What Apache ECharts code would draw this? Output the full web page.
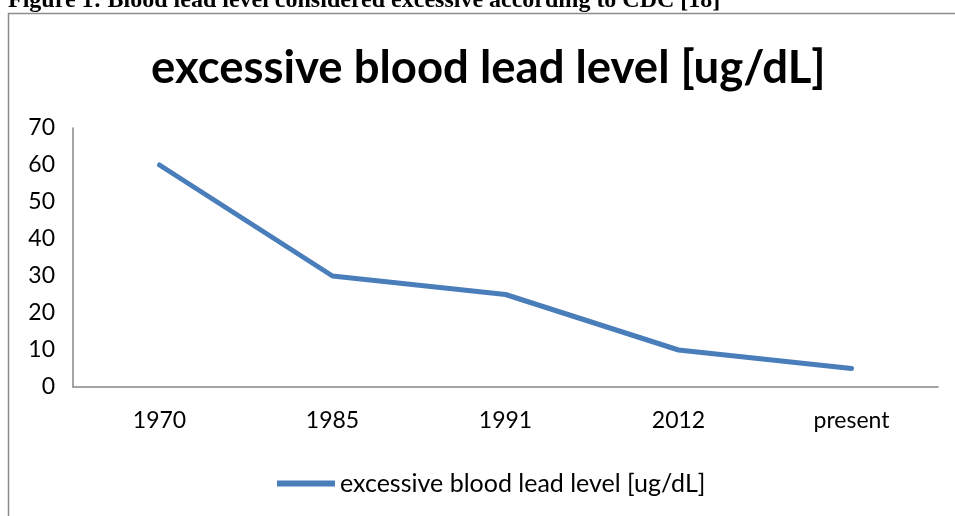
<!DOCTYPE html>
<html><head><meta charset="utf-8">
<script src="https://cdn.jsdelivr.net/npm/echarts@6/dist/echarts.min.js"></script>
<style>html,body{margin:0;padding:0;background:#fff;}#c{width:955px;height:516px;}</style>
</head><body><div id="c"></div>
<script>
const categories = ['1970', '1985', '1991', '2012', 'present'];
const values = [60, 30, 25, 10, 5];
const yTicks = [0, 10, 20, 30, 40, 50, 60, 70];
const seriesName = 'excessive blood lead level [ug/dL]';
const caption = 'Figure 1: Blood lead level considered excessive according to CDC [18]';

const chart = echarts.init(document.getElementById('c'), null, {renderer: 'canvas'});
const font = 'Lato';
chart.setOption({
  animation: false,
  title: {
    text: seriesName, left: 146, top: 40,
    textStyle: {fontFamily: font, fontWeight: 'bold', fontSize: 45.5, color: '#000'}
  },
  graphic: [
    {type: 'rect', shape: {x: 8.5, y: 13.5, width: 1000, height: 600}, style: {fill: 'none', stroke: '#8c8c8c', lineWidth: 1.5}, silent: true},
    {type: 'text', left: 8, top: -11, style: {text: caption, font: 'bold 24px "Liberation Serif"', fill: '#000'}}
  ],
  legend: {
    bottom: 15, left: 272, itemWidth: 58, itemHeight: 6, itemGap: 7,
    textStyle: {fontFamily: font, fontSize: 25, color: '#000'},
    data: [{name: seriesName, icon: 'path://M0,0 L58,0 L58,6 L0,6 Z'}]
  },
  grid: {left: 73, right: 17, top: 128, bottom: 129},
  xAxis: {
    type: 'category', data: categories, boundaryGap: true,
    axisLine: {lineStyle: {color: '#868686', width: 1.5}},
    axisTick: {show: false},
    axisLabel: {fontFamily: font, fontSize: 23, color: '#000', margin: 22}
  },
  yAxis: {
    type: 'value', min: 0, max: 70, interval: 10,
    axisLine: {show: true, lineStyle: {color: '#868686', width: 1.5}},
    axisTick: {show: false},
    splitLine: {show: false},
    axisLabel: {fontFamily: font, fontSize: 23, color: '#000', margin: 18,
      formatter: v => yTicks.includes(v) ? String(v) : ''}
  },
  series: [{
    name: seriesName, type: 'line', data: values,
    symbol: 'none',
    lineStyle: {color: '#4A7EBB', width: 5, cap: 'round', join: 'round'},
    itemStyle: {color: '#4A7EBB'}
  }]
});
</script></body></html>
